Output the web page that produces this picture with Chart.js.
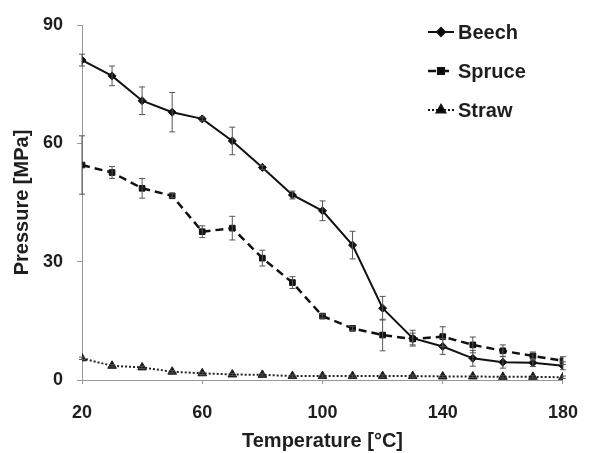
<!DOCTYPE html>
<html>
<head>
<meta charset="utf-8">
<script src="https://cdn.jsdelivr.net/npm/chart.js@4/dist/chart.umd.min.js"></script>
<style>
  html, body { margin: 0; padding: 0; background: #fff; }
  #wrap { width: 596px; height: 453px; position: relative; }
</style>
</head>
<body>
<div id="wrap"><canvas id="c" width="596" height="453"></canvas></div>
<script>
const temperatures = [20, 30, 40, 50, 60, 70, 80, 90, 100, 110, 120, 130, 140, 150, 160, 170, 180];
const beech  = [81.1, 77.1, 70.8, 67.9, 66.2, 60.6, 53.9, 46.9, 42.9, 34.2, 18.2, 10.6, 8.5, 5.5, 4.5, 4.4, 3.6];
const beechErr  = [1.5, 2.5, 3.5, 5.0, 0.5, 3.5, 0.5, 1.0, 2.5, 3.5, 3.0, 2.0, 2.0, 2.0, 1.5, 1.0, 1.0];
const spruce = [54.5, 52.6, 48.6, 46.7, 37.6, 38.5, 30.9, 24.7, 16.2, 13.1, 11.4, 10.4, 11.0, 8.9, 7.4, 6.1, 4.9];
const spruceErr = [7.4, 1.5, 2.5, 0.5, 1.5, 3.0, 2.0, 1.5, 0.5, 0.5, 4.0, 1.5, 2.5, 2.0, 1.5, 1.0, 1.0];
const straw  = [5.5, 3.6, 3.2, 2.1, 1.7, 1.4, 1.3, 1.0, 1.0, 1.0, 1.0, 1.0, 0.9, 0.9, 0.8, 0.8, 0.7];
const strawErr  = [0.3, 0.3, 0.3, 0.3, 0.3, 0.3, 0.3, 0.3, 0.3, 0.3, 0.3, 0.3, 0.3, 0.3, 0.3, 0.3, 0.3];
const xTicks = [20, 60, 100, 140, 180];
const yTicks = [0, 30, 60, 90];
const seriesNames = ['Beech', 'Spruce', 'Straw'];

const FONT = '"Liberation Sans", Arial, sans-serif';
const TXT = '#1e1e1e';

function pts(vals) { return temperatures.map((t, i) => ({ x: t, y: vals[i] })); }

const errorBars = {
  id: 'errorBars',
  afterDatasetsDraw(chart) {
    const ctx = chart.ctx, xs = chart.scales.x, ys = chart.scales.y;
    chart.data.datasets.forEach(ds => {
      const errs = ds.errors;
      ctx.save();
      ctx.strokeStyle = '#555';
      ctx.lineWidth = 1;
      ds.data.forEach((p, i) => {
        const x = xs.getPixelForValue(p.x);
        const y1 = ys.getPixelForValue(p.y + errs[i]);
        const y2 = ys.getPixelForValue(p.y - errs[i]);
        ctx.beginPath();
        ctx.moveTo(x, y1); ctx.lineTo(x, y2);
        ctx.moveTo(x - 3, y1); ctx.lineTo(x + 3, y1);
        ctx.moveTo(x - 3, y2); ctx.lineTo(x + 3, y2);
        ctx.stroke();
      });
      ctx.restore();
    });
  }
};

const customLegend = {
  id: 'customLegend',
  afterDraw(chart) {
    const ctx = chart.ctx;
    const rows = [32, 71, 110];
    chart.data.datasets.forEach((ds, i) => {
      const y = rows[i];
      ctx.save();
      ctx.strokeStyle = '#111';
      ctx.lineWidth = ds.borderWidth;
      ctx.setLineDash(ds.borderDash || []);
      ctx.beginPath();
      ctx.moveTo(428, y); ctx.lineTo(454, y);
      ctx.stroke();
      ctx.setLineDash([]);
      Chart.helpers.drawPoint(ctx, {
        pointStyle: ds.pointStyle, radius: ds.pointRadius, rotation: ds.pointRotation || 0,
        borderWidth: 1
      }, 441, y);
      ctx.fillStyle = TXT;
      ctx.font = 'bold 20px ' + FONT;
      ctx.textBaseline = 'middle';
      ctx.textAlign = 'left';
      ctx.fillText(ds.label, 458, y + 1);
      ctx.restore();
    });
  }
};

new Chart(document.getElementById('c'), {
  type: 'line',
  data: {
    datasets: [
      { label: seriesNames[0], data: pts(beech), errors: beechErr, borderColor: '#111', backgroundColor: '#111',
        borderWidth: 2, pointStyle: 'rectRot', pointRadius: 4, pointBorderWidth: 1, tension: 0 },
      { label: seriesNames[1], data: pts(spruce), errors: spruceErr, borderColor: '#111', backgroundColor: '#111',
        borderWidth: 2.5, borderDash: [8, 5], pointStyle: 'rect', pointRadius: 4, pointBorderWidth: 1, tension: 0 },
      { label: seriesNames[2], data: pts(straw), errors: strawErr, borderColor: '#222', backgroundColor: '#111',
        borderWidth: 2, borderDash: [2, 2], pointStyle: 'triangle', pointRadius: 5, pointBorderWidth: 1, tension: 0 }
    ]
  },
  options: {
    responsive: false,
    animation: false,
    layout: { padding: { left: 0, right: 16, top: 25, bottom: 0 } },
    plugins: { legend: { display: false }, tooltip: { enabled: false } },
    scales: {
      x: {
        type: 'linear', min: 20, max: 180,
        afterBuildTicks(s) { s.ticks = xTicks.map(v => ({ value: v })); },
        afterFit(s) { s.height = 73; },
        grid: { drawOnChartArea: false, drawTicks: true, tickLength: 4, color: '#999' },
        border: { display: true, color: '#999', width: 1 },
        ticks: { color: TXT, font: { family: FONT, size: 18, weight: 'bold' }, padding: 18, maxRotation: 0 },
        title: { display: true, text: 'Temperature [°C]', color: TXT, font: { family: FONT, size: 20, weight: 'bold' }, padding: { top: 0, bottom: 0 } }
      },
      y: {
        type: 'linear', min: 0, max: 90,
        afterBuildTicks(s) { s.ticks = yTicks.map(v => ({ value: v })); },
        afterFit(s) { s.width = 82; },
        grid: { drawOnChartArea: false, drawTicks: true, tickLength: 5, color: '#999' },
        border: { display: true, color: '#999', width: 1 },
        ticks: { color: TXT, font: { family: FONT, size: 18, weight: 'bold' }, padding: 14 },
        title: { display: true, text: 'Pressure [MPa]', color: TXT, font: { family: FONT, size: 20, weight: 'bold' }, padding: { top: 10, bottom: 0 } }
      }
    }
  },
  plugins: [errorBars, customLegend]
});
</script>
</body>
</html>
